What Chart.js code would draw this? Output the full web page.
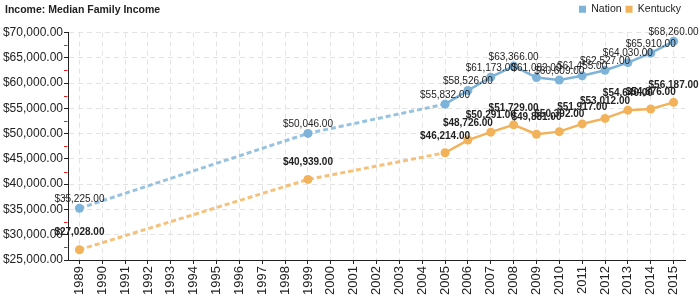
<!DOCTYPE html>
<html>
<head>
<meta charset="utf-8">
<script src="https://cdn.jsdelivr.net/npm/chart.js@4.4.0/dist/chart.umd.min.js"></script>
<style>
  html, body { margin: 0; padding: 0; background: #fff; }
  #wrap { position: relative; width: 700px; height: 300px; }
  #title { position: absolute; left: 5px; top: 3px; font: bold 10.5px "Liberation Sans", Arial, sans-serif; color: #222; }
</style>
</head>
<body>
<div id="wrap">
  <div id="title">Income: Median Family Income</div>
  <canvas id="myChart" width="700" height="300"></canvas>
</div>
<script>
const years = ['1989', '1990', '1991', '1992', '1993', '1994', '1995', '1996', '1997', '1998', '1999',
  '2000', '2001', '2002', '2003', '2004', '2005', '2006', '2007', '2008', '2009', '2010', '2011',
  '2012', '2013', '2014', '2015'];
const nation = [35225, null, null, null, null, null, null, null, null, null, 50046,
  null, null, null, null, null, 55832, 58526, 61173, 63366, 61082, 60609, 61455,
  62527, 64030, 65910, 68260];
const kentucky = [27028, null, null, null, null, null, null, null, null, null, 40939,
  null, null, null, null, null, 46214, 48726, 50291, 51729, 49881, 50392, 51917,
  53012, 54640, 54876, 56187];

const blue = '#7db3d8';
const orange = '#f2b25a';
const fam = '"Liberation Sans", Arial, sans-serif';

const money = v => '$' + v.toLocaleString('en-US', { minimumFractionDigits: 2, maximumFractionDigits: 2 });
const gap = (ctx, value) => ctx.p0.skip || ctx.p1.skip ? value : undefined;

// value labels above each point
const valueLabels = {
  id: 'valueLabels',
  afterDatasetsDraw(chart) {
    const ctx = chart.ctx;
    chart.data.datasets.forEach((ds, i) => {
      const meta = chart.getDatasetMeta(i);
      ctx.save();
      ctx.font = (i === 1 ? 'bold ' : '') + '10px ' + fam;
      ctx.fillStyle = '#222';
      ctx.textAlign = 'center';
      ctx.textBaseline = 'middle';
      meta.data.forEach((pt, j) => {
        if (ds.data[j] === null) return;
        ctx.fillText(money(ds.data[j]), pt.x, pt.y - (i === 1 ? 17 : 9));
      });
      ctx.restore();
    });
  }
};

// small red ticks half way between the y labels
const minorTicks = {
  id: 'minorTicks',
  afterDraw(chart) {
    const y = chart.scales.y, ctx = chart.ctx;
    const t = y.ticks;
    ctx.save();
    ctx.strokeStyle = '#e02020';
    ctx.lineWidth = 1;
    for (let k = 0; k < t.length - 1; k++) {
      const py = Math.round(y.getPixelForValue((t[k].value + t[k + 1].value) / 2)) + 0.5;
      ctx.beginPath();
      ctx.moveTo(y.right - 4, py);
      ctx.lineTo(y.right - 0.5, py);
      ctx.stroke();
    }
    ctx.restore();
  }
};

// a bit more room under the legend
const legendRoom = {
  id: 'legendRoom',
  beforeInit(chart) {
    const fit = chart.legend.fit;
    chart.legend.fit = function () {
      fit.call(this);
      this.height += 8;
    };
  }
};

function lineSet(label, data, color) {
  return {
    label: label,
    data: data,
    borderColor: color,
    backgroundColor: color,
    pointBackgroundColor: color,
    pointBorderWidth: 0,
    pointRadius: 4.5,
    borderWidth: 2.5,
    spanGaps: true,
    segment: {
      borderDash: ctx => gap(ctx, [5, 3]),
      borderWidth: ctx => gap(ctx, 3),
      borderColor: ctx => gap(ctx, color + 'cc')
    }
  };
}

new Chart(document.getElementById('myChart'), {
  type: 'line',
  data: {
    labels: years,
    datasets: [lineSet('Nation', nation, blue), lineSet('Kentucky', kentucky, orange)]
  },
  options: {
    responsive: false,
    animation: false,
    events: [],
    layout: { padding: { top: 0, right: 15, left: 0, bottom: 0 } },
    plugins: {
      tooltip: { enabled: false },
      legend: {
        position: 'top',
        align: 'end',
        labels: {
          boxWidth: 7,
          boxHeight: 7,
          padding: 4,
          color: '#222',
          font: { size: 10.5, family: fam },
          generateLabels: chart => Chart.defaults.plugins.legend.labels.generateLabels(chart)
            .map(l => ({ ...l, lineWidth: 0 }))
        }
      }
    },
    scales: {
      x: {
        offset: true,
        afterFit: s => { s.height = 40; },
        grid: { color: '#e3e3e3', tickColor: '#222', tickLength: 4 },
        border: { color: '#222', width: 1, dash: [5, 4] },
        ticks: {
          autoSkip: false,
          minRotation: 90,
          maxRotation: 90,
          padding: 2,
          color: '#222',
          font: { size: 13, family: fam }
        }
      },
      y: {
        min: 25000,
        max: 70000,
        afterFit: s => { s.width = 68; },
        grid: { color: '#e3e3e3', tickColor: '#222', tickLength: 4 },
        border: { color: '#222', width: 1, dash: [5, 4] },
        ticks: {
          stepSize: 5000,
          padding: 1,
          color: '#222',
          font: { size: 12, family: fam },
          callback: v => money(v)
        }
      }
    }
  },
  plugins: [valueLabels, minorTicks, legendRoom]
});
</script>
</body>
</html>
